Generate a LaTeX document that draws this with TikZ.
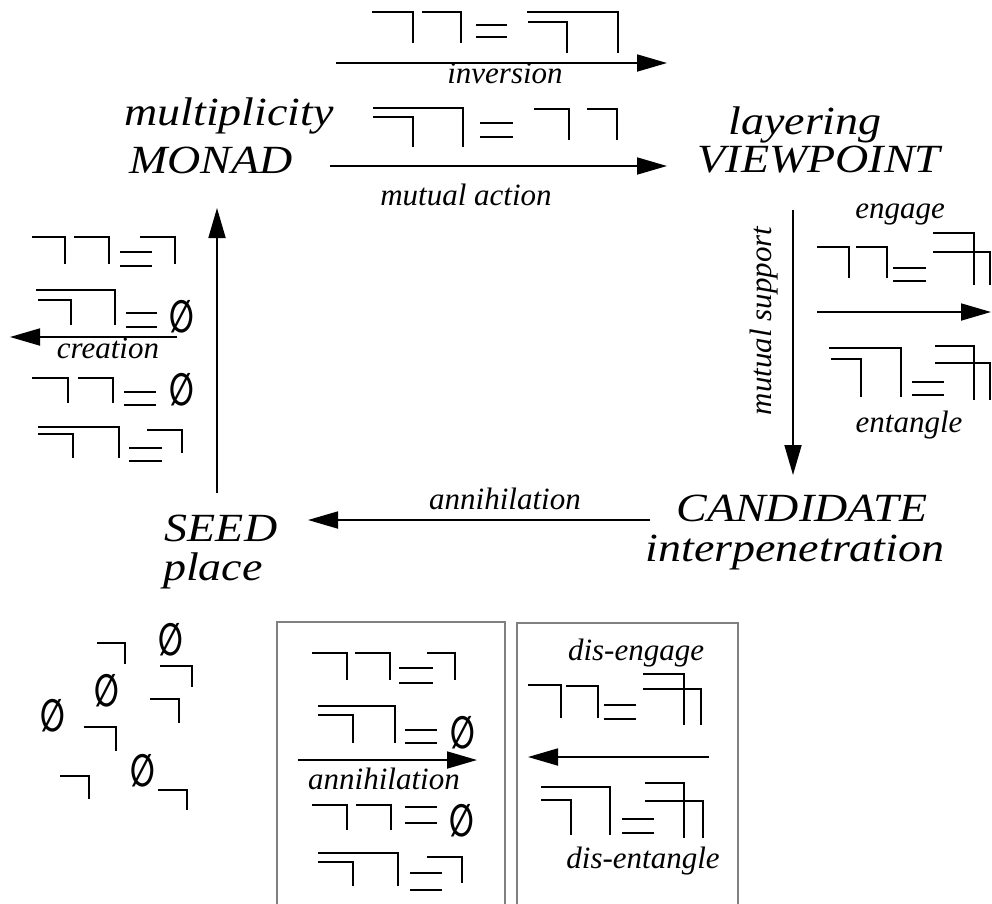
\documentclass[tikz,border=0pt]{standalone}
\usepackage{fontspec}
\setmainfont{Liberation Serif}
\newfontfamily\symf{DejaVu Sans}
\usetikzlibrary{arrows.meta}
\tikzset{
 markline/.style={line width=2.9pt, line join=miter},
 arr/.style={line width=1.8pt, -{Triangle[length=30pt,width=17pt]}},
 big/.style={font=\fontsize{40}{46}\selectfont\itshape, inner sep=0pt, anchor=base},
 small/.style={font=\fontsize{31}{36}\selectfont\itshape, inner sep=0pt, anchor=base},
 emp/.style={font=\fontsize{36}{42}\selectfont\symf\bfseries, inner sep=0pt},
 boxline/.style={draw=black!50, line width=2pt},
}
\newcommand\es{\scalebox{0.8}[1.25]{∅}}
\newcommand\wide[1]{\scalebox{1.15}[1]{#1}}
\newcommand\mk[4]{\draw[markline] (#1,#3) -| (#2,#4);}
\newcommand\eqs[4]{\draw[markline] (#1,#3) -- (#2,#3) (#1,#4) -- (#2,#4);}
\begin{document}
\begin{tikzpicture}[x=1pt,y=-1pt]
\useasboundingbox (0,0) rectangle (992,903);
% boxes
\draw[boxline] (277,906) -- (277,622) -- (505,622) -- (505,906);
\draw[boxline] (517,906) -- (517,623) -- (738,623) -- (738,906);
% main labels
\node[big] (mult) at (229,125) {\wide{multiplicity}};
\node[big] (monad) at (211,173) {\wide{MONAD}};
\node[big] (layer) at (805,134) {\wide{layering}};
\node[big] (view) at (819,172) {\wide{VIEWPOINT}};
\node[big] (cand) at (802,521) {\wide{CANDIDATE}};
\node[big] (inter) at (795,561) {\wide{interpenetration}};
\node[big] (seed) at (221,541) {\wide{SEED}};
\node[big] (place) at (213,580) {\wide{place}};
% small labels
\node[small] (linv) at (505,83) {inversion};
\node[small] (lma) at (466,205) {mutual action};
\node[small] (leng) at (900,218) {engage};
\node[small] (lent) at (909,432) {entangle};
\node[small] (lcre) at (108,358) {creation};
\node[small] (lann) at (505,509) {annihilation};
\node[small] (lann2) at (384,789) {annihilation};
\node[small] (ldeng) at (636,660) {dis-engage};
\node[small] (ldent) at (643,868) {dis-entangle};
\node[small, rotate=90] (lms) at (771,321) {mutual support};
% arrows
\coordinate (inv-s) at (336,63); \coordinate (inv-e) at (667,63);
\coordinate (ma-s) at (330,166); \coordinate (ma-e) at (667,166);
\coordinate (ms-s) at (793,210); \coordinate (ms-e) at (793,475);
\coordinate (an-s) at (650,520); \coordinate (an-e) at (308,520);
\coordinate (up-s) at (217,493); \coordinate (up-e) at (217,208);
\coordinate (cr-s) at (177,337); \coordinate (cr-e) at (10,337);
\coordinate (en-s) at (817,312); \coordinate (en-e) at (991,312);
\coordinate (ba-s) at (298,760); \coordinate (ba-e) at (477,760);
\coordinate (de-s) at (709,757); \coordinate (de-e) at (528,757);
\draw[arr] (inv-s) -- (inv-e);
\draw[arr] (ma-s) -- (ma-e);
\draw[arr] (ms-s) -- (ms-e);
\draw[arr] (an-s) -- (an-e);
\draw[arr] (up-s) -- (up-e);
\draw[arr] (cr-s) -- (cr-e);
\draw[arr] (en-s) -- (en-e);
\draw[arr] (ba-s) -- (ba-e);
\draw[arr] (de-s) -- (de-e);
% T1
\mk{372}{413}{12}{43}
\mk{422}{461}{12}{43}
\eqs{476}{507}{25}{37}
\mk{527}{618}{12}{53}
\mk{528}{567}{22}{53}
% T2
\mk{373}{463}{108}{147}
\mk{373}{413}{117}{147}
\eqs{480}{513}{123}{137}
\mk{534}{569}{109}{140}
\mk{587}{617}{109}{140}
% E1
\mk{817}{849}{247}{278}
\mk{856}{887}{247}{278}
\eqs{893}{926}{268}{281}
\mk{933}{974}{233}{285}
\mk{933}{990}{252}{285}
% E2
\mk{829}{901}{348}{397}
\mk{831}{861}{359}{397}
\eqs{912}{944}{382}{395}
\mk{935}{974}{346}{400}
\mk{935}{990}{363}{400}
% C1
\mk{32}{65}{237}{264}
\mk{74}{109}{237}{264}
\eqs{120}{152}{252}{266}
\mk{140}{175}{237}{264}
% C2
\mk{36}{115}{290}{325}
\mk{38}{71}{300}{325}
\eqs{126}{157}{313}{327}
\node[emp] (c2e) at (182,317) {\es};
% C3
\mk{32}{68}{378}{403}
\mk{78}{113}{378}{403}
\eqs{124}{156}{392}{405}
\node[emp] (c3e) at (182,390) {\es};
% C4
\mk{38}{119}{427}{458}
\mk{38}{73}{434}{458}
\eqs{129}{162}{448}{461}
\mk{147}{182}{430}{453}
% B1
\mk{312}{347}{653}{680}
\mk{355}{390}{653}{680}
\eqs{399}{433}{668}{683}
\mk{427}{455}{653}{680}
% B2
\mk{318}{395}{706}{743}
\mk{318}{353}{715}{743}
\eqs{405}{437}{730}{743}
\node[emp] (b2e) at (463,733) {\es};
% B3
\mk{312}{347}{805}{830}
\mk{356}{391}{805}{830}
\eqs{405}{437}{807}{823}
\node[emp] (b3e) at (462,821) {\es};
% B4
\mk{318}{398}{853}{886}
\mk{318}{353}{862}{886}
\eqs{410}{442}{873}{890}
\mk{427}{462}{857}{883}
% D1
\mk{528}{561}{685}{718}
\mk{566}{598}{686}{718}
\eqs{604}{636}{705}{719}
\mk{643}{684}{674}{725}
\mk{643}{701}{689}{725}
% D2
\mk{541}{610}{787}{835}
\mk{541}{571}{800}{835}
\eqs{622}{654}{819}{833}
\mk{645}{684}{783}{838}
\mk{645}{703}{801}{838}
% seed scatter
\mk{97}{125}{643}{664}
\node[emp] (s1) at (171,640) {\es};
\mk{160}{192}{666}{687}
\node[emp] (s2) at (107,691) {\es};
\mk{150}{179}{699}{723}
\node[emp] (s3) at (53,716) {\es};
\mk{84}{116}{727}{751}
\mk{60}{89}{776}{799}
\node[emp] (s4) at (143,771) {\es};
\mk{158}{187}{790}{810}
\end{tikzpicture}
\end{document}
